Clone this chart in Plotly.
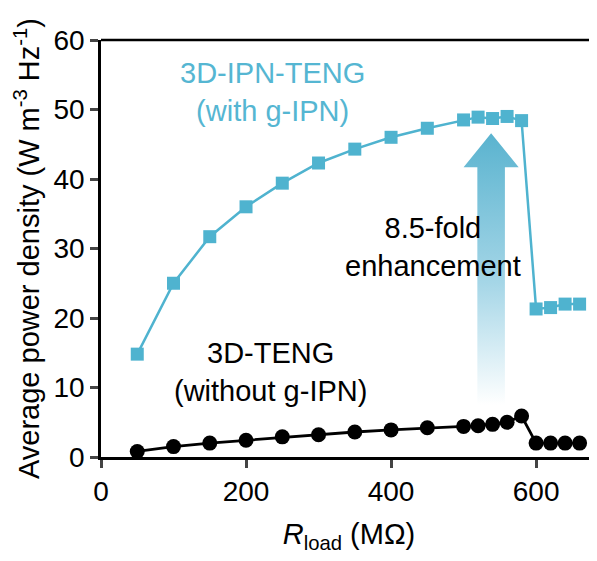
import plotly.graph_objects as go

# Data
r_load = [50, 100, 150, 200, 250, 300, 350, 400, 450, 500, 520, 540, 560, 580, 600, 620, 640, 660]
p_ipn = [14.8, 25.0, 31.7, 36.0, 39.4, 42.3, 44.3, 46.0, 47.3, 48.5, 48.9, 48.7, 49.0, 48.4, 21.3, 21.5, 22.0, 22.0]
p_teng = [0.8, 1.5, 2.0, 2.4, 2.9, 3.2, 3.6, 3.9, 4.2, 4.4, 4.5, 4.7, 5.0, 5.9, 2.0, 2.0, 2.0, 2.0]

x_ticks = [0, 200, 400, 600]
y_ticks = [0, 10, 20, 30, 40, 50, 60]

BLUE = "#4fb3cf"
FONT = "Liberation Sans, Arial, sans-serif"

# Enhancement arrow outline (annotation shape, data units)
arrow_cx = 538
arrow_shaft_half = 19
arrow_head_half = 38
arrow_bottom = 7.5
arrow_head_base = 41.7
arrow_tip = 46.6

ax = [arrow_cx - arrow_shaft_half, arrow_cx - arrow_shaft_half, arrow_cx - arrow_head_half,
      arrow_cx, arrow_cx + arrow_head_half, arrow_cx + arrow_shaft_half,
      arrow_cx + arrow_shaft_half, arrow_cx - arrow_shaft_half]
ay = [arrow_bottom, arrow_head_base, arrow_head_base, arrow_tip, arrow_head_base,
      arrow_head_base, arrow_bottom, arrow_bottom]

fig = go.Figure()

fig.add_trace(go.Scatter(
    x=ax, y=ay, mode="lines", fill="toself", line=dict(width=0, color="rgba(0,0,0,0)"),
    fillgradient=dict(type="vertical", start=arrow_bottom, stop=arrow_tip,
                      colorscale=[[0, "rgba(255,255,255,1)"], [0.45, "rgba(165,214,231,1)"],
                                  [1, "rgba(90,179,207,1)"]]),
    hoverinfo="skip", showlegend=False))

fig.add_trace(go.Scatter(
    x=r_load, y=p_teng, mode="lines+markers",
    line=dict(color="black", width=2.8),
    marker=dict(symbol="circle", size=15, color="black"),
    showlegend=False))

fig.add_trace(go.Scatter(
    x=r_load, y=p_ipn, mode="lines+markers",
    line=dict(color=BLUE, width=2.5),
    marker=dict(symbol="square", size=13, color=BLUE),
    showlegend=False))

fig.add_annotation(x=237, y=52.5, xref="x", yref="y", showarrow=False,
                   text="3D-IPN-TENG<br>(with g-IPN)",
                   font=dict(family=FONT, size=29, color="#55b6d2"), align="center")
fig.add_annotation(x=458, y=30.2, xref="x", yref="y", showarrow=False,
                   text="8.5-fold<br>enhancement",
                   font=dict(family=FONT, size=29, color="black"), align="center")
fig.add_annotation(x=234, y=12.2, xref="x", yref="y", showarrow=False,
                   text="3D-TENG<br>(without g-IPN)",
                   font=dict(family=FONT, size=29, color="black"), align="center")

fig.update_xaxes(range=[0, 684], tickvals=x_ticks, ticks="outside", ticklen=8, tickwidth=2.5,
                 showline=True, linecolor="black", linewidth=2.5, mirror=False,
                 showgrid=False, zeroline=False, automargin=False,
                 tickfont=dict(family=FONT, size=28, color="black"),
                 title=dict(text="<i>R</i><sub>load</sub> (MΩ)",
                            font=dict(family=FONT, size=29, color="black"), standoff=18))
fig.update_yaxes(range=[0, 60], tickvals=y_ticks, ticks="outside", ticklen=8, tickwidth=2.5,
                 showline=True, linecolor="black", linewidth=2.5,
                 showgrid=False, zeroline=False, automargin=False,
                 tickfont=dict(family=FONT, size=28, color="black"),
                 title=dict(text="Average power density (W m<sup>-3</sup> Hz<sup>-1</sup>)",
                            font=dict(family=FONT, size=29, color="black"), standoff=6))

# top border line
fig.add_shape(type="line", xref="paper", yref="paper", x0=0, x1=1, y0=1, y1=1,
              line=dict(color="black", width=2.5))

# page body has an 8px margin: figure is sized/margined to compensate
fig.update_layout(width=589, height=553, margin=dict(l=93, r=0, t=32, b=104),
                  plot_bgcolor="white", paper_bgcolor="white")

fig.write_html("out.html")
